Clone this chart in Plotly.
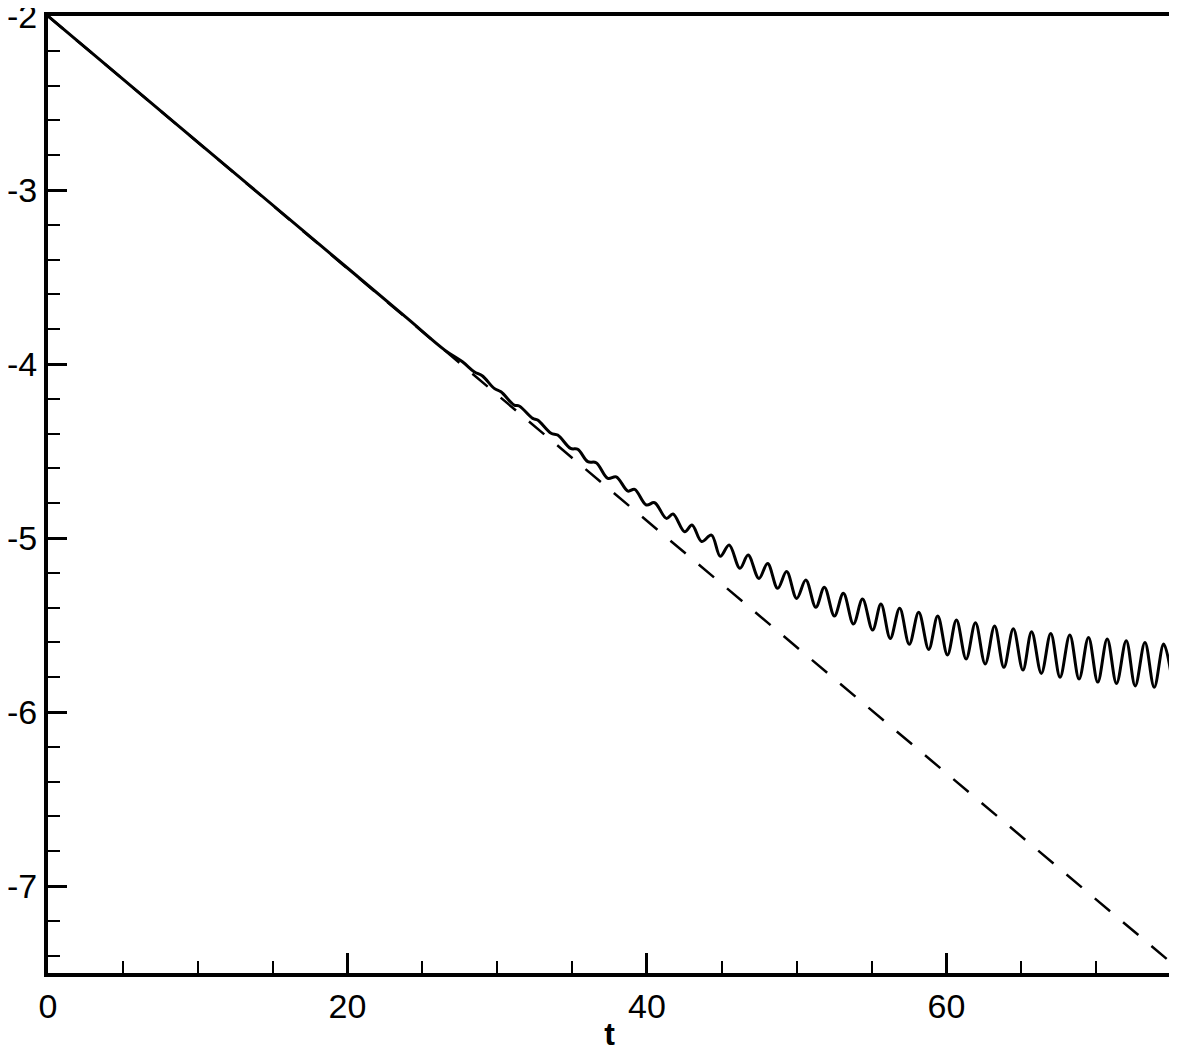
import plotly.graph_objects as go

# dashed reference line (straight decay)
t_ref = [0.0, 75.0]
y_ref = [-2.0, -7.44]

# solid curve (extrema / shoulders of the wiggles)
t_sol = [
    0.0, 10.0, 20.0, 24.0, 26.5,
    27.68, 28.46, 29.02, 29.80, 30.25, 31.14, 31.47, 32.37, 32.70, 33.60,
    34.04, 34.90, 35.38, 36.05, 36.61, 37.39, 37.95, 38.73, 39.18, 39.96,
    40.51, 41.30, 41.74, 42.52, 43.01, 43.65, 44.31, 44.90, 45.49, 46.21,
    46.76, 47.48, 48.06, 48.73, 49.33, 50.00, 50.61, 51.28, 51.85, 52.52,
    53.12, 53.79, 54.40, 55.07, 55.63, 56.25, 56.88, 57.52, 58.15, 58.82,
    59.42, 60.07, 60.67, 61.32, 61.94, 62.59, 63.22, 63.84, 64.47, 65.11,
    65.69, 66.34, 66.97, 67.59, 68.24, 68.86, 69.49, 70.11, 70.74, 71.36,
    72.01, 72.61, 73.26, 73.88, 74.51, 75.0,
]
y_sol = [
    -2.0, -2.724, -3.448, -3.738, -3.92,
    -3.987, -4.044, -4.069, -4.140, -4.159, -4.236, -4.241, -4.312, -4.322, -4.398,
    -4.408, -4.485, -4.490, -4.561, -4.567, -4.657, -4.648, -4.730, -4.720, -4.810,
    -4.797, -4.887, -4.862, -4.964, -4.925, -5.020, -4.983, -5.105, -5.040, -5.174,
    -5.098, -5.232, -5.146, -5.289, -5.193, -5.347, -5.241, -5.398, -5.283, -5.448,
    -5.318, -5.494, -5.351, -5.529, -5.379, -5.577, -5.404, -5.611, -5.427, -5.640,
    -5.448, -5.672, -5.471, -5.695, -5.487, -5.724, -5.506, -5.743, -5.521, -5.759,
    -5.538, -5.778, -5.548, -5.800, -5.557, -5.810, -5.571, -5.828, -5.580, -5.836,
    -5.590, -5.850, -5.600, -5.858, -5.609, -5.780,
]

x_ticks = [0, 20, 40, 60]
y_ticks = [-2, -3, -4, -5, -6, -7]

fig = go.Figure()

fig.add_trace(
    go.Scatter(
        x=t_ref,
        y=y_ref,
        mode="lines",
        line=dict(color="black", width=2.5, dash="20px,17px"),
        showlegend=False,
    )
)
fig.add_trace(
    go.Scatter(
        x=t_sol,
        y=y_sol,
        mode="lines",
        line=dict(color="black", width=3, shape="spline", smoothing=1.0),
        showlegend=False,
    )
)

axis_font = dict(family="Liberation Sans, Arial, sans-serif", size=34, color="black")

fig.update_xaxes(
    range=[0, 75],
    tickmode="array",
    tickvals=x_ticks,
    ticktext=[str(v) for v in x_ticks],
    ticks="inside",
    ticklen=20,
    tickwidth=3,
    tickcolor="black",
    minor=dict(dtick=5, tick0=0, ticks="inside", ticklen=12, tickwidth=1.5, tickcolor="black"),
    showline=True,
    linewidth=4,
    linecolor="black",
    mirror=True,
    showgrid=False,
    zeroline=False,
    tickfont=axis_font,
    ticklabeloverflow="allow",
    automargin=False,
    title=dict(
        text="<b>t</b>",
        font=dict(family="Liberation Sans, Arial, sans-serif", size=32, color="black"),
        standoff=0,
    ),
)
fig.update_yaxes(
    range=[-7.5, -1.9995],
    tickmode="array",
    tickvals=y_ticks,
    ticktext=[str(v) for v in y_ticks],
    ticks="inside",
    ticklen=19,
    tickwidth=3,
    tickcolor="black",
    minor=dict(dtick=0.2, tick0=-2, ticks="inside", ticklen=12, tickwidth=1.5, tickcolor="black"),
    showline=True,
    linewidth=4,
    linecolor="black",
    mirror=True,
    showgrid=False,
    zeroline=False,
    tickfont=axis_font,
    ticklabeloverflow="allow",
    automargin=False,
)

# page body adds an 8 px offset, so margins are set relative to that
fig.update_layout(
    width=1177,
    height=1056,
    margin=dict(l=40, r=14, t=8, b=91),
    paper_bgcolor="white",
    plot_bgcolor="white",
    showlegend=False,
)

fig.write_html("out.html")
